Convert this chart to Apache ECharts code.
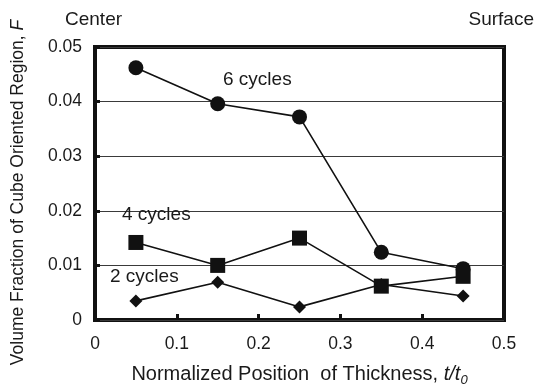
<!DOCTYPE html>
<html>
<head>
<meta charset="utf-8">
<script src="https://cdn.jsdelivr.net/npm/echarts@6/dist/echarts.min.js"></script>
<style>
  html, body { margin: 0; padding: 0; background: #fff; }
  #chart { width: 536px; height: 392px; }
</style>
</head>
<body>
<div id="chart"></div>
<script>
// Normalized position through the thickness (t/t0)
const positions = [0.05, 0.15, 0.25, 0.35, 0.45];
// Volume fraction of cube oriented region for each cycle count
const cycles6 = [0.0462, 0.0396, 0.0372, 0.0124, 0.0094];
const cycles4 = [0.0142, 0.0100, 0.0150, 0.0062, 0.0080];
const cycles2 = [0.0035, 0.0069, 0.0024, 0.0065, 0.0044];
const seriesNames = ['6 cycles', '4 cycles', '2 cycles'];
const xTicks = [0, 0.1, 0.2, 0.3, 0.4, 0.5];
const yTicks = [0, 0.01, 0.02, 0.03, 0.04, 0.05];

const FONT = '"Liberation Sans", Arial, sans-serif';
const INK = '#1a1a1a';

function pairs(vals) {
  return positions.map((x, i) => [x, vals[i]]);
}

function lineSeries(name, vals, symbol, size) {
  return {
    name: name,
    type: 'line',
    data: pairs(vals),
    symbol: symbol,
    symbolSize: size,
    showAllSymbol: true,
    lineStyle: { color: '#111', width: 1.6 },
    itemStyle: { color: '#111', borderWidth: 0 },
    emphasis: { disabled: true },
    z: 3
  };
}

function note(text, x, y, align) {
  return {
    type: 'text', x: x, y: y, z: 10,
    style: {
      text: text, fontSize: 19, fontFamily: FONT, fill: INK,
      align: align || 'left', verticalAlign: 'middle'
    }
  };
}

const chart = echarts.init(document.getElementById('chart'), null, { renderer: 'canvas' });

chart.setOption({
  animation: false,
  backgroundColor: '#fff',
  textStyle: { fontFamily: FONT },
  grid: {
    left: 95, right: 32, top: 47, bottom: 71,
    show: true, borderColor: '#111', borderWidth: 4, backgroundColor: 'transparent'
  },
  xAxis: {
    type: 'value',
    min: xTicks[0], max: xTicks[xTicks.length - 1], interval: 0.1,
    axisLine: { show: false },
    axisTick: { show: true, inside: true, length: 6, lineStyle: { color: '#111', width: 3 } },
    splitLine: { show: false },
    axisLabel: {
      color: INK, fontSize: 17.5, fontFamily: FONT, margin: 15,
      formatter: v => (Math.abs(v) < 1e-9 ? '0' : v.toFixed(1))
    },
    name: 'Normalized Position  of Thickness, {i|t/t}{s|0}',
    nameLocation: 'middle',
    nameGap: 42,
    nameTextStyle: {
      color: INK, fontSize: 20, fontFamily: FONT,
      rich: {
        i: { fontStyle: 'italic', fontSize: 20, fontFamily: FONT, color: INK },
        s: { fontStyle: 'italic', fontSize: 13, fontFamily: FONT, color: INK, padding: [12, 0, 0, 0] }
      }
    }
  },
  yAxis: {
    type: 'value',
    min: yTicks[0], max: yTicks[yTicks.length - 1], interval: 0.01,
    axisLine: { show: false },
    axisTick: { show: true, inside: true, length: 5, lineStyle: { color: '#111', width: 3 } },
    splitLine: { show: true, lineStyle: { color: '#3a3a3a', width: 1 } },
    axisLabel: {
      color: INK, fontSize: 17.5, fontFamily: FONT, margin: 13,
      formatter: v => (Math.abs(v) < 1e-9 ? '0' : v.toFixed(2))
    },
    name: 'Volume Fraction of Cube Oriented Region, {i|F}',
    nameLocation: 'middle',
    nameGap: 68,
    nameRotate: 90,
    nameTextStyle: {
      color: INK, fontSize: 17.5, fontFamily: FONT,
      padding: [0, 18, 0, 0],
      rich: { i: { fontStyle: 'italic', fontSize: 17.5, fontFamily: FONT, color: INK } }
    }
  },
  series: [
    lineSeries(seriesNames[0], cycles6, 'circle', 15),
    lineSeries(seriesNames[1], cycles4, 'rect', 15),
    lineSeries(seriesNames[2], cycles2, 'diamond', 13)
  ],
  graphic: [
    note('Center', 65, 20),
    note('Surface', 534, 20, 'right'),
    note(seriesNames[0], 223, 80),
    note(seriesNames[1], 122, 215),
    note(seriesNames[2], 110, 277)
  ]
});
</script>
</body>
</html>
